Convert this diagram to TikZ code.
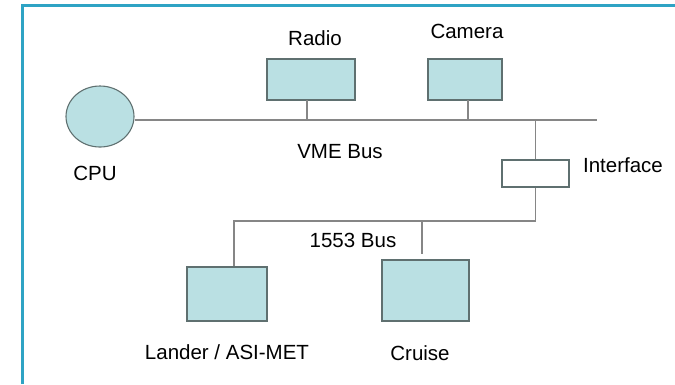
\documentclass[tikz,border=0pt]{standalone}
\usepackage{fontspec}
\setmainfont{Liberation Sans}
\usepackage{tikz}
\usetikzlibrary{positioning, calc, fit, arrows.meta, shapes.geometric}

\definecolor{unitfill}{HTML}{BAE0E3}
\definecolor{unitedge}{HTML}{5F7070}
\definecolor{busline}{HTML}{868686}
\definecolor{frameblue}{HTML}{2EA3C4}

\tikzset{
  unit/.style={draw=unitedge, fill=unitfill, line width=1.1pt, inner sep=0pt},
  bus/.style={draw=busline, line width=1.3pt},
  tag/.style={font=\fontsize{20.5}{24}\selectfont, inner sep=0pt}
}

\begin{document}
\begin{tikzpicture}[x=1pt, y=-1pt]
\useasboundingbox (0,0) rectangle (675,384);
% outer frame
\draw[frameblue, line width=2.5pt] (22.5,384) -- (22.5,5.7) -- (675,5.7);

% units
\node[unit, ellipse, minimum width=68pt, minimum height=61pt] (cpu) at (100,116.5) {};
\node[unit, minimum width=88pt, minimum height=41pt] (radio) at (311,79.5) {};
\node[unit, minimum width=74pt, minimum height=41pt] (camera) at (465,79.5) {};
\node[draw=unitedge, fill=white, line width=1.1pt, minimum width=67pt, minimum height=27pt] (iface) at (535.5,173.5) {};
\node[unit, minimum width=80pt, minimum height=54pt] (lander) at (227,294) {};
\node[unit, minimum width=87pt, minimum height=61pt] (cruise) at (425.5,290.5) {};

% buses
\coordinate (vmeEnd) at (597,120);
\coordinate (tapRadio) at (307,100);
\coordinate (tapCamera) at (468,100);
\coordinate (busLeft) at (234,221);
\coordinate (tapCruise) at (422,254);
\draw[bus] (cpu.east |- vmeEnd) -- (vmeEnd);
\draw[bus] (tapRadio) -- (tapRadio |- vmeEnd);
\draw[bus] (tapCamera) -- (tapCamera |- vmeEnd);
\draw[bus] (iface.north) -- (iface.north |- vmeEnd);
\draw[bus] (iface.south) -- (iface.south |- busLeft) -- (busLeft) -- (busLeft |- lander.north);
\draw[bus] (tapCruise |- busLeft) -- (tapCruise);

% labels
\node[tag] (radioTxt) at (315,38) {Radio};
\node[tag] (cameraTxt) at (467,31) {Camera};
\node[tag] (cpuTxt) at (95,173) {CPU};
\node[tag] (vmeTxt) at (340,152) {VME Bus};
\node[tag] (ifaceTxt) at (623,165) {Interface};
\node[tag] (milTxt) at (353,240) {1553 Bus};
\node[tag] (landerTxt) at (227,352) {Lander / ASI-MET};
\node[tag] (cruiseTxt) at (420,353) {Cruise};
\end{tikzpicture}
\end{document}
